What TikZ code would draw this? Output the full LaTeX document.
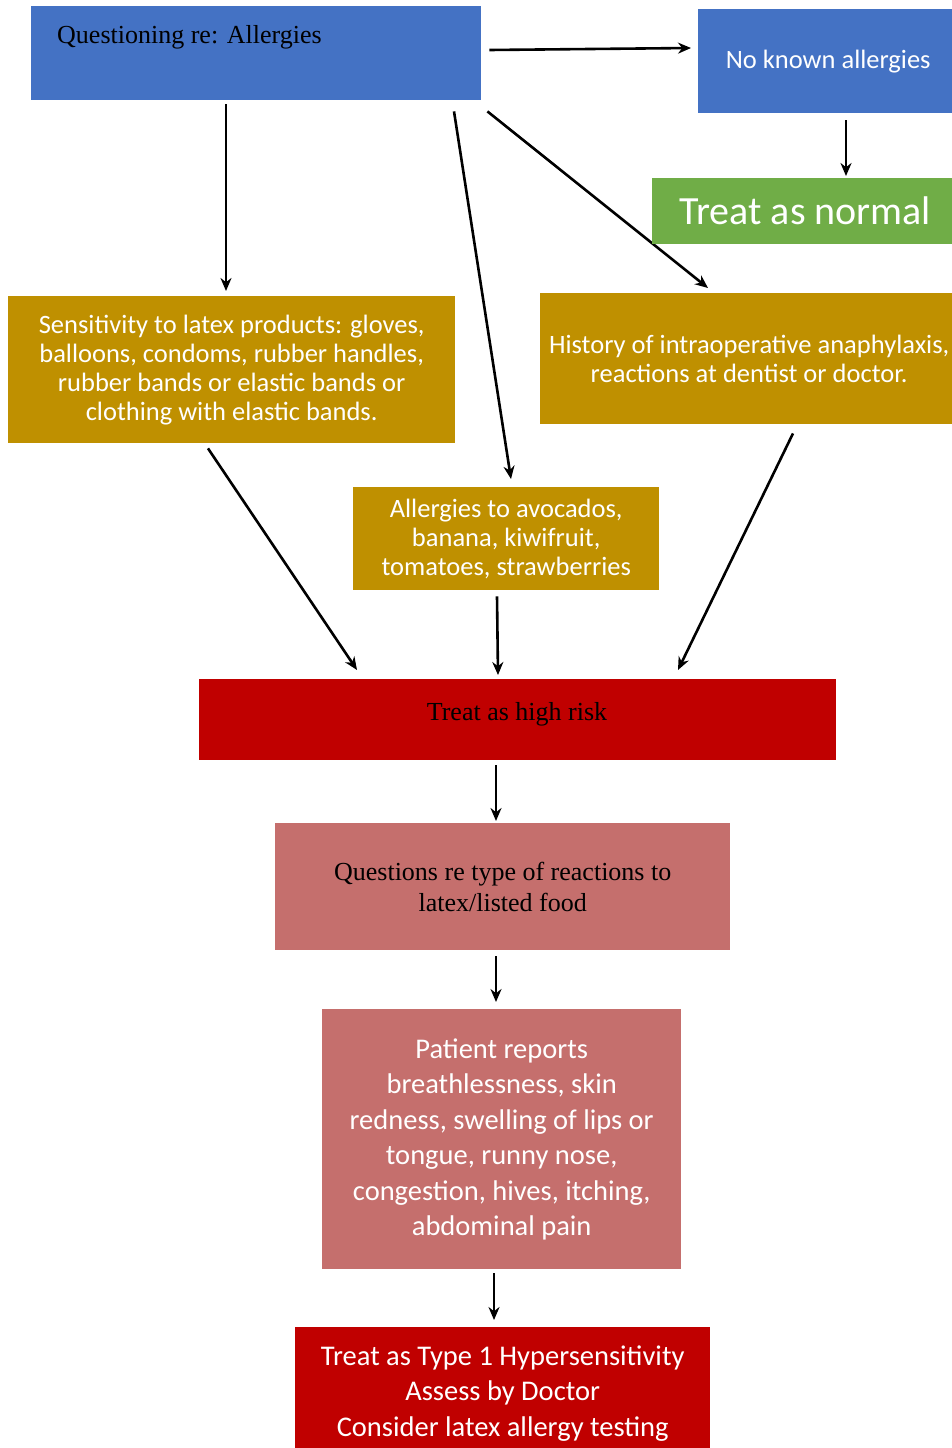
\documentclass[tikz,border=0pt]{standalone}
\usepackage{fontspec}
\setmainfont{Carlito}
\newfontfamily\serifface{Liberation Serif}
\usetikzlibrary{arrows.meta,calc}
\definecolor{qblue}{HTML}{4472C4}
\definecolor{qgreen}{HTML}{70AD47}
\definecolor{qgold}{HTML}{BF9000}
\definecolor{qred}{HTML}{C00000}
\definecolor{qpink}{RGB}{197,111,109}
\pgfdeclarelayer{bg}
\pgfsetlayers{bg,main}
\begin{document}
\begin{tikzpicture}[x=1pt,y=-1pt,
  box/.style={draw=none, inner sep=0pt, anchor=north west, align=center, text=white},
  calib/.style={font=\fontsize{26.5}{29}\selectfont},
  calibbig/.style={font=\fontsize{28.5}{35.5}\selectfont},
  serifsty/.style={font=\serifface\fontsize{26}{31}\selectfont, text=black},
  arr/.style={-{Stealth[length=13pt,width=11pt]}, line width=2.6pt, black}]
\useasboundingbox (0,0) rectangle (952,1448);
\clip (0,0) rectangle (952,1448);

\node[box, fill=qblue, minimum width=450pt, minimum height=94pt] (q) at (31,6) {};
\node[serifsty, anchor=base west, inner sep=0pt] (qt) at (57,43) {Questioning re: Allergies};
\node[box, calib, fill=qblue, minimum width=260pt, minimum height=104pt] (nka) at (698,9) {No known allergies};
\node[box, fill=qgreen, minimum width=306pt, minimum height=66pt, font=\fontsize{40}{44}\selectfont] (norm) at (652,178) {Treat as normal};
\node[box, calib, fill=qgold, minimum width=447pt, minimum height=147pt] (sens) at (8,296) {Sensitivity to latex products: gloves,\\ balloons, condoms, rubber handles,\\ rubber bands or elastic bands or\\ clothing with elastic bands.};
\node[box, calib, fill=qgold, minimum width=418pt, minimum height=131pt] (hist) at (540,293) {History of intraoperative anaphylaxis,\\ reactions at dentist or doctor.};
\node[box, calib, fill=qgold, minimum width=306pt, minimum height=103pt] (avo) at (353,487) {Allergies to avocados,\\ banana, kiwifruit,\\ tomatoes, strawberries};
\node[box, fill=qred, minimum width=637pt, minimum height=81pt] (high) at (199,679) {};
\node[serifsty, inner sep=0pt, anchor=base] (hight) at ($(high.north west)+(318,41)$) {Treat as high risk};
\node[box, serifsty, fill=qpink, minimum width=455pt, minimum height=127pt] (qtype) at (275,823) {Questions re type of reactions to\\ latex/listed food};
\node[box, calibbig, fill=qpink, minimum width=359pt, minimum height=260pt] (pat) at (322,1009) {Patient reports\\ breathlessness, skin\\ redness, swelling of lips or\\ tongue, runny nose,\\ congestion, hives, itching,\\ abdominal pain};
\node[box, calibbig, fill=qred, minimum width=415pt, minimum height=132pt] (t1) at (295,1327) {Treat as Type 1 Hypersensitivity\\ Assess by Doctor\\ Consider latex allergy testing};

\begin{pgfonlayer}{bg}
\draw[arr] ($(q.north east)+(8,44)$) -- ($(nka.north west)+(-7,39)$);
\draw[arr] ($(q.south west)+(195,4)$) -- ($(sens.north west)+(218,-5)$);
\draw[arr] ($(q.south west)+(423,11)$) -- ($(avo.north west)+(158,-8)$);
\draw[arr] ($(q.south east)+(6,11)$) -- ($(hist.north west)+(168,-5)$);
\draw[arr] ($(nka.south west)+(148,7)$) -- ($(norm.north west)+(194,-2)$);
\draw[arr] ($(sens.south west)+(200,5)$) -- ($(high.north west)+(158,-9)$);
\draw[arr] ($(avo.south west)+(144,6)$) -- ($(high.north west)+(299,-4)$);
\draw[arr] ($(hist.south west)+(253,9)$) -- ($(high.north west)+(479,-9)$);
\draw[arr] ($(high.south west)+(297,5)$) -- ($(qtype.north west)+(221,-2)$);
\draw[arr] ($(qtype.south west)+(221,6)$) -- ($(pat.north west)+(174,-7)$);
\draw[arr] ($(pat.south west)+(172,4)$) -- ($(t1.north west)+(199,-7)$);
\end{pgfonlayer}
\end{tikzpicture}
\end{document}
